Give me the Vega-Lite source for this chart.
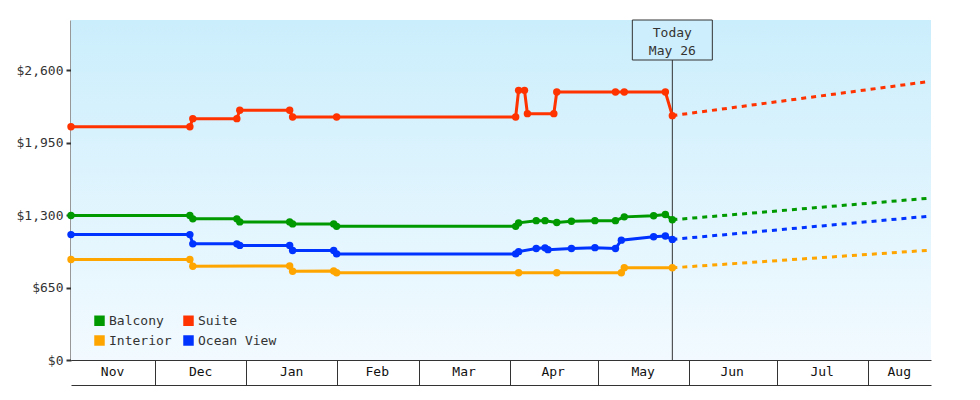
{
  "$schema": "https://vega.github.io/schema/vega-lite/v6.json",
  "width": 860,
  "height": 340,
  "autosize": {"type": "none"},
  "padding": {"left": 71, "top": 20, "right": 49, "bottom": 40},
  "background": "white",
  "datasets": {
    "history": [
      {"cabin": "Suite", "date": "2024-11-02T12:00:00Z", "price": 2092},
      {"cabin": "Suite", "date": "2024-12-13", "price": 2092},
      {"cabin": "Suite", "date": "2024-12-14", "price": 2165},
      {"cabin": "Suite", "date": "2024-12-29", "price": 2165},
      {"cabin": "Suite", "date": "2024-12-30", "price": 2241},
      {"cabin": "Suite", "date": "2025-01-16", "price": 2241},
      {"cabin": "Suite", "date": "2025-01-17", "price": 2180},
      {"cabin": "Suite", "date": "2025-02-01", "price": 2180},
      {"cabin": "Suite", "date": "2025-04-03", "price": 2180},
      {"cabin": "Suite", "date": "2025-04-04", "price": 2419},
      {"cabin": "Suite", "date": "2025-04-06", "price": 2419},
      {"cabin": "Suite", "date": "2025-04-07", "price": 2210},
      {"cabin": "Suite", "date": "2025-04-16", "price": 2210},
      {"cabin": "Suite", "date": "2025-04-17", "price": 2404},
      {"cabin": "Suite", "date": "2025-05-07", "price": 2404},
      {"cabin": "Suite", "date": "2025-05-10", "price": 2404},
      {"cabin": "Suite", "date": "2025-05-24", "price": 2404},
      {"cabin": "Suite", "date": "2025-05-26T09:00:00Z", "price": 2192},
      {"cabin": "Balcony", "date": "2024-11-02T12:00:00Z", "price": 1296},
      {"cabin": "Balcony", "date": "2024-12-13", "price": 1296},
      {"cabin": "Balcony", "date": "2024-12-14", "price": 1266},
      {"cabin": "Balcony", "date": "2024-12-29", "price": 1266},
      {"cabin": "Balcony", "date": "2024-12-30", "price": 1239},
      {"cabin": "Balcony", "date": "2025-01-16", "price": 1239},
      {"cabin": "Balcony", "date": "2025-01-17", "price": 1221},
      {"cabin": "Balcony", "date": "2025-01-31", "price": 1221},
      {"cabin": "Balcony", "date": "2025-02-01", "price": 1199},
      {"cabin": "Balcony", "date": "2025-04-03", "price": 1199},
      {"cabin": "Balcony", "date": "2025-04-04", "price": 1230},
      {"cabin": "Balcony", "date": "2025-04-10", "price": 1250},
      {"cabin": "Balcony", "date": "2025-04-13", "price": 1250},
      {"cabin": "Balcony", "date": "2025-04-17", "price": 1234},
      {"cabin": "Balcony", "date": "2025-04-22", "price": 1244},
      {"cabin": "Balcony", "date": "2025-04-30", "price": 1250},
      {"cabin": "Balcony", "date": "2025-05-07", "price": 1250},
      {"cabin": "Balcony", "date": "2025-05-10", "price": 1284},
      {"cabin": "Balcony", "date": "2025-05-20", "price": 1294},
      {"cabin": "Balcony", "date": "2025-05-24", "price": 1305},
      {"cabin": "Balcony", "date": "2025-05-26T09:00:00Z", "price": 1258},
      {"cabin": "Ocean View", "date": "2024-11-02T12:00:00Z", "price": 1125},
      {"cabin": "Ocean View", "date": "2024-12-13", "price": 1125},
      {"cabin": "Ocean View", "date": "2024-12-14", "price": 1042},
      {"cabin": "Ocean View", "date": "2024-12-29", "price": 1042},
      {"cabin": "Ocean View", "date": "2024-12-30", "price": 1028},
      {"cabin": "Ocean View", "date": "2025-01-16", "price": 1028},
      {"cabin": "Ocean View", "date": "2025-01-17", "price": 982},
      {"cabin": "Ocean View", "date": "2025-01-31", "price": 982},
      {"cabin": "Ocean View", "date": "2025-02-01", "price": 952},
      {"cabin": "Ocean View", "date": "2025-04-03", "price": 952},
      {"cabin": "Ocean View", "date": "2025-04-04", "price": 972},
      {"cabin": "Ocean View", "date": "2025-04-10", "price": 1000},
      {"cabin": "Ocean View", "date": "2025-04-13", "price": 1006},
      {"cabin": "Ocean View", "date": "2025-04-14", "price": 990},
      {"cabin": "Ocean View", "date": "2025-04-22", "price": 1000},
      {"cabin": "Ocean View", "date": "2025-04-30", "price": 1008},
      {"cabin": "Ocean View", "date": "2025-05-07", "price": 1000},
      {"cabin": "Ocean View", "date": "2025-05-09", "price": 1075},
      {"cabin": "Ocean View", "date": "2025-05-20", "price": 1105},
      {"cabin": "Ocean View", "date": "2025-05-24", "price": 1112},
      {"cabin": "Ocean View", "date": "2025-05-26T09:00:00Z", "price": 1082},
      {"cabin": "Interior", "date": "2024-11-02T12:00:00Z", "price": 901},
      {"cabin": "Interior", "date": "2024-12-13", "price": 901},
      {"cabin": "Interior", "date": "2024-12-14", "price": 841},
      {"cabin": "Interior", "date": "2025-01-16", "price": 843},
      {"cabin": "Interior", "date": "2025-01-17", "price": 796},
      {"cabin": "Interior", "date": "2025-01-31", "price": 798},
      {"cabin": "Interior", "date": "2025-02-01", "price": 782},
      {"cabin": "Interior", "date": "2025-04-04", "price": 782},
      {"cabin": "Interior", "date": "2025-04-17", "price": 782},
      {"cabin": "Interior", "date": "2025-05-09", "price": 782},
      {"cabin": "Interior", "date": "2025-05-10", "price": 827},
      {"cabin": "Interior", "date": "2025-05-26T09:00:00Z", "price": 827}
    ],
    "projection": [
      {"cabin": "Suite", "date": "2025-05-26T09:00:00Z", "price": 2192},
      {"cabin": "Suite", "date": "2025-08-21T12:00:00Z", "price": 2497},
      {"cabin": "Balcony", "date": "2025-05-26T09:00:00Z", "price": 1258},
      {"cabin": "Balcony", "date": "2025-08-21T12:00:00Z", "price": 1451},
      {"cabin": "Ocean View", "date": "2025-05-26T09:00:00Z", "price": 1082},
      {"cabin": "Ocean View", "date": "2025-08-21T12:00:00Z", "price": 1289},
      {"cabin": "Interior", "date": "2025-05-26T09:00:00Z", "price": 827},
      {"cabin": "Interior", "date": "2025-08-21T12:00:00Z", "price": 984}
    ],
    "today": [
      {"date": "2025-05-26T09:00:00Z", "label": "Today\nMay 26"}
    ]
  },
  "config": {
    "view": {"stroke": null},
    "font": "DejaVu Sans Mono",
    "axis": {"labelFont": "DejaVu Sans Mono", "grid": false, "title": null},
    "legend": {"labelFont": "DejaVu Sans Mono"}
  },
  "resolve": {"axis": {"x": "independent"}},
  "layer": [
    {
      "data": {"values": [{}]},
      "mark": {
        "type": "rect",
        "fill": {
          "gradient": "linear", "x1": 0, "y1": 0, "x2": 0, "y2": 1,
          "stops": [{"offset": 0, "color": "#cbeefc"}, {"offset": 1, "color": "#f2faff"}]
        }
      },
      "encoding": {}
    },
    {
      "data": {"name": "today"},
      "mark": {"type": "rule", "color": "#333333", "strokeWidth": 1},
      "encoding": {
        "x": {
          "field": "date", "type": "temporal",
          "scale": {"type": "utc", "domain": [{"year": 2024, "month": 11, "date": 2, "hours": 12, "utc": true}, {"year": 2025, "month": 8, "date": 22, "hours": 12, "utc": true}]},
          "axis": {
            "orient": "bottom", "offset": 25, "ticks": false, "domain": true, "domainColor": "#333333", "domainWidth": 1,
            "labelPadding": -20, "labelFontSize": 13, "labelColor": "#111111",
            "labelExpr": "utcFormat(datum.value, '%b')",
            "labelOverlap": false, "labelFlush": false,
            "values": [
              {"year": 2024, "month": 11, "date": 16, "hours": 12, "utc": true},
              {"year": 2024, "month": 12, "date": 16, "hours": 12, "utc": true},
              {"year": 2025, "month": 1, "date": 16, "hours": 12, "utc": true},
              {"year": 2025, "month": 2, "date": 14, "hours": 16, "utc": true},
              {"year": 2025, "month": 3, "date": 16, "hours": 6, "utc": true},
              {"year": 2025, "month": 4, "date": 15, "hours": 14, "utc": true},
              {"year": 2025, "month": 5, "date": 16, "hours": 6, "utc": true},
              {"year": 2025, "month": 6, "date": 15, "hours": 14, "utc": true},
              {"year": 2025, "month": 7, "date": 16, "hours": 6, "utc": true},
              {"year": 2025, "month": 8, "date": 11, "hours": 12, "utc": true}
            ]
          }
        }
      }
    },
    {
      "data": {"name": "history"},
      "mark": {"type": "line", "strokeWidth": 3},
      "encoding": {
        "x": {
          "field": "date", "type": "temporal",
          "scale": {"type": "utc", "domain": [{"year": 2024, "month": 11, "date": 2, "hours": 12, "utc": true}, {"year": 2025, "month": 8, "date": 22, "hours": 12, "utc": true}]},
          "axis": {
            "orient": "bottom", "labels": false, "tickSize": 25, "tickWidth": 1, "tickColor": "#333333",
            "domain": true, "domainColor": "#333333", "domainWidth": 1,
            "values": [
              {"year": 2024, "month": 12, "date": 1, "utc": true},
              {"year": 2025, "month": 1, "date": 1, "utc": true},
              {"year": 2025, "month": 2, "date": 1, "utc": true},
              {"year": 2025, "month": 3, "date": 1, "utc": true},
              {"year": 2025, "month": 4, "date": 1, "utc": true},
              {"year": 2025, "month": 5, "date": 1, "utc": true},
              {"year": 2025, "month": 6, "date": 1, "utc": true},
              {"year": 2025, "month": 7, "date": 1, "utc": true},
              {"year": 2025, "month": 8, "date": 1, "utc": true}
            ]
          }
        },
        "y": {
          "field": "price", "type": "quantitative",
          "scale": {"domain": [0, 3050], "nice": false, "zero": true},
          "axis": {
            "title": null, "values": [0, 650, 1300, 1950, 2600], "format": "$,.0f",
            "tickSize": 5, "tickWidth": 2, "tickColor": "#333333",
            "domainColor": "#333333", "domainWidth": 2,
            "labelFontSize": 13, "labelColor": "#333333", "labelPadding": 3, "grid": false
          }
        },
        "color": {
          "field": "cabin", "type": "nominal",
          "scale": {"domain": ["Balcony", "Interior", "Suite", "Ocean View"], "range": ["#009900", "#ffa500", "#ff3300", "#0033ff"]},
          "legend": {
            "title": null, "orient": "none", "legendX": 22, "legendY": 294, "columns": 2,
            "symbolType": "square", "symbolSize": 110, "symbolStrokeWidth": 0, "symbolOpacity": 1,
            "labelFontSize": 13, "labelColor": "#333333", "labelOffset": 3,
            "columnPadding": 10, "rowPadding": 6, "padding": 0
          }
        }
      }
    },
    {
      "data": {"name": "projection"},
      "mark": {"type": "line", "strokeWidth": 3, "strokeDash": [5, 5], "strokeDashOffset": 0},
      "encoding": {
        "x": {"field": "date", "type": "temporal", "axis": null},
        "y": {"field": "price", "type": "quantitative"},
        "color": {"field": "cabin", "type": "nominal"}
      }
    },
    {
      "data": {"name": "history"},
      "mark": {"type": "circle", "size": 55, "opacity": 1},
      "encoding": {
        "x": {"field": "date", "type": "temporal", "axis": null},
        "y": {"field": "price", "type": "quantitative"},
        "color": {"field": "cabin", "type": "nominal"}
      }
    },
    {
      "data": {"name": "today"},
      "mark": {"type": "point", "shape": "M-1,0H1V1H-1Z", "size": 6400, "filled": true, "fill": "#cdeefc", "stroke": "#333333", "strokeWidth": 1, "opacity": 1, "fillOpacity": 1},
      "encoding": {
        "x": {"field": "date", "type": "temporal", "axis": null},
        "y": {"datum": 3050, "type": "quantitative"}
      }
    },
    {
      "data": {"name": "today"},
      "mark": {"type": "text", "lineBreak": "\n", "baseline": "top", "align": "center", "dy": 7, "fontSize": 13, "lineHeight": 18, "color": "#333333", "font": "DejaVu Sans Mono"},
      "encoding": {
        "x": {"field": "date", "type": "temporal", "axis": null},
        "y": {"datum": 3050, "type": "quantitative"},
        "text": {"field": "label"}
      }
    }
  ]
}
